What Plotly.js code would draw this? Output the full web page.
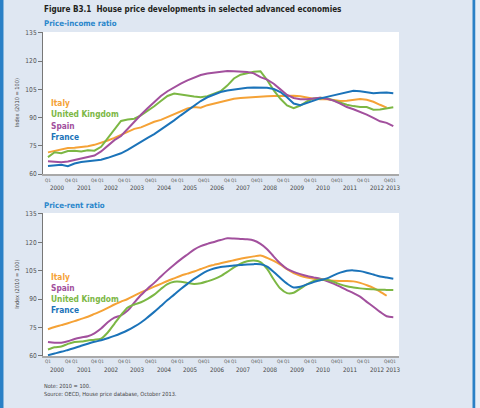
<!DOCTYPE html>
<html>
<head>
<meta charset="utf-8">
<script src="https://cdn.plot.ly/plotly-3.0.1.min.js"></script>
<style>
  html, body { margin: 0; padding: 0; background: #dfe7f2; }
  #chart { width: 480px; height: 408px; }
</style>
</head>
<body>
<div id="chart"></div>
<script>
// Quarterly periods, 2000 Q1 to 2013 Q1
const years = [2000, 2001, 2002, 2003, 2004, 2005, 2006, 2007, 2008, 2009, 2010, 2011, 2012];
const lastYear = 2013;
const quarterNames = ['Q1', 'Q2', 'Q3', 'Q4'];

// Price-income ratio, index 2010 = 100
const incomeItaly = [71.5, 72.3, 73.0, 73.8, 74.0, 74.2, 74.8, 75.5, 76.5, 77.8, 79.2, 80.8, 82.6, 84.0, 84.8, 86.5,
  87.8, 88.8, 90.3, 91.8, 93.2, 94.8, 95.6, 95.2, 96.6, 97.5, 98.6, 99.5, 100.0, 100.4, 100.7, 101.2,
  101.5, 101.4, 101.5, 101.6, 101.5, 101.6, 101.3, 100.6, 100.0, 99.8, 99.8, 99.3, 98.8, 98.9, 99.6, 99.9,
  99.5, 98.4, 96.8, 95.3];
const incomeUK = [69.0, 71.6, 71.0, 72.2, 72.4, 72.0, 72.6, 72.4, 74.5, 79.0, 84.0, 88.2, 89.0, 89.4, 91.2, 93.4,
  96.0, 98.8, 101.5, 102.8, 102.4, 101.8, 101.2, 100.8, 101.4, 102.6, 104.0, 107.0, 110.8, 112.8, 113.6, 114.4,
  114.6, 110.0, 104.5, 100.0, 96.5, 95.0, 96.4, 98.6, 100.2, 100.6, 100.3, 99.2, 97.8, 96.8, 96.1, 95.6,
  95.6, 94.2, 94.3, 94.8, 95.5];
const incomeSpain = [66.8, 66.4, 66.2, 66.6, 67.4, 68.0, 68.6, 69.8, 72.0, 75.2, 78.0, 80.2, 84.0, 88.0, 91.5, 95.0,
  98.5, 101.5, 104.0, 106.2, 108.0, 109.8, 111.4, 112.6, 113.4, 114.0, 114.6, 114.8, 114.6, 114.4, 114.3, 113.5,
  111.5, 110.2, 108.0, 105.0, 102.0, 100.4, 99.8, 99.8, 100.4, 100.6, 100.0, 99.0, 97.4, 95.6, 94.4, 93.2,
  91.6, 89.8, 88.0, 87.2, 85.4];
const incomeFrance = [64.2, 64.5, 64.9, 64.2, 65.6, 66.4, 66.8, 67.2, 67.6, 68.6, 69.8, 71.0, 72.8, 75.0, 77.4, 79.2,
  81.2, 83.5, 86.0, 88.5, 91.2, 93.8, 96.5, 98.8, 100.8, 102.4, 103.6, 104.4, 105.0, 105.5, 105.8, 106.0,
  106.1, 105.9, 105.2, 103.6, 100.8, 97.5, 96.6, 97.8, 99.2, 100.2, 101.0, 101.8, 102.8, 103.6, 104.2, 104.0,
  103.6, 103.0, 103.2, 103.3, 102.9];

// Price-rent ratio, index 2010 = 100
const rentItaly = [74.1, 75.3, 76.3, 77.3, 78.4, 79.6, 80.7, 82.2, 83.7, 85.4, 87.2, 88.7, 90.1, 91.9, 93.6, 95.1,
  96.6, 98.1, 99.6, 101.0, 102.4, 103.5, 104.6, 105.9, 107.2, 108.1, 109.0, 109.8, 110.6, 111.3, 112.0, 112.6,
  113.0, 111.8, 110.2, 108.2, 105.8, 103.8, 102.4, 101.4, 100.8, 100.4, 100.0, 99.7, 99.6, 99.6, 99.4, 98.6,
  97.4, 96.0, 94.0, 91.8];
const rentSpain = [67.4, 67.0, 67.0, 67.8, 69.0, 69.8, 70.4, 72.0, 74.5, 77.8, 80.2, 81.5, 84.0, 88.2, 92.2, 95.5,
  98.6, 102.0, 105.2, 108.2, 111.0, 113.6, 116.2, 118.0, 119.2, 120.2, 121.2, 122.1, 122.0, 121.8, 121.6, 121.0,
  119.2, 116.4, 112.5, 108.8, 106.0, 104.4, 103.2, 102.2, 101.5, 100.8, 99.6, 98.2, 96.6, 94.8, 93.2, 91.3,
  88.6, 86.0, 83.3, 81.0, 80.5];
const rentUK = [63.4, 64.6, 65.0, 66.4, 67.4, 67.6, 68.2, 68.6, 69.2, 72.4, 77.0, 81.6, 85.6, 87.2, 88.4, 90.2,
  92.4, 95.4, 98.0, 99.2, 99.2, 98.6, 98.0, 98.4, 99.4, 100.6, 102.2, 104.4, 106.8, 108.8, 110.0, 110.4,
  109.6, 106.0, 100.4, 95.6, 93.2, 93.4, 95.6, 97.8, 99.6, 100.4, 100.2, 99.2, 97.8, 96.8, 96.2, 95.7,
  95.4, 95.2, 95.0, 94.9, 94.8];
const rentFrance = [60.4, 61.3, 62.2, 63.2, 64.2, 65.4, 66.5, 67.5, 68.3, 69.4, 70.6, 72.0, 73.6, 75.5, 77.7, 80.4,
  83.3, 86.4, 89.5, 92.4, 95.4, 98.1, 100.7, 103.0, 104.9, 106.2, 107.0, 107.4, 107.8, 108.0, 108.3, 108.5,
  108.4, 107.2, 104.4, 101.2, 98.2, 96.2, 96.6, 97.8, 99.0, 100.0, 101.0, 102.6, 104.0, 105.0, 105.2, 104.8,
  104.0, 103.0, 102.0, 101.4, 100.8];

const yTicks = [60, 75, 90, 105, 120, 135];

const colors = { Italy: '#f5a236', 'United Kingdom': '#7cb744', Spain: '#a2509d', France: '#1b73b9' };
const narrow = 'DejaVu Sans Condensed, Liberation Sans Narrow, sans-serif';

// Category labels for every quarter
const periods = [];
years.forEach(y => quarterNames.forEach(q => periods.push(y + ' ' + q)));
periods.push(lastYear + ' Q1');

function series(name, values, xa, ya, smooth) {
  return {
    type: 'scatter', mode: 'lines', name: name,
    x: periods.slice(0, values.length), y: values,
    xaxis: xa, yaxis: ya,
    line: { color: colors[name], width: 2, shape: smooth ? 'spline' : 'linear', smoothing: 0.8 },
    hoverinfo: 'skip', showlegend: false
  };
}

const data = [
  series('Italy', incomeItaly, 'x', 'y', false),
  series('United Kingdom', incomeUK, 'x', 'y', false),
  series('Spain', incomeSpain, 'x', 'y', false),
  series('France', incomeFrance, 'x', 'y', false),
  series('Italy', rentItaly, 'x2', 'y2', true),
  series('Spain', rentSpain, 'x2', 'y2', true),
  series('United Kingdom', rentUK, 'x2', 'y2', true),
  series('France', rentFrance, 'x2', 'y2', true)
];

function xAxis(anchor) {
  return {
    type: 'category', anchor: anchor, range: [-0.75, 52.86],
    showline: true, linecolor: '#a9a9a9', linewidth: 1.5,
    showgrid: false, zeroline: false, ticks: '', showticklabels: false
  };
}
function yAxis(anchor, domain) {
  return {
    anchor: anchor, domain: domain, range: [60, 135.5],
    showline: true, linecolor: '#777', linewidth: 1,
    showgrid: false, zeroline: false,
    ticks: 'outside', ticklen: 4, tickcolor: '#777', tickwidth: 1,
    tickmode: 'array', tickvals: yTicks,
    tickfont: { family: narrow, size: 6.6, color: '#555' }
  };
}

const annotations = [];
const shapes = [];

// Quarter labels, year labels and the bracket between each year's Q1 and Q4
function periodMarks(xa, ya) {
  const qFont = { family: narrow, size: 4.6, color: '#555' };
  const yFont = { family: narrow, size: 6.2, color: '#444' };
  periods.forEach((p, i) => {
    const q = p.slice(-2);
    if (q === 'Q1' || q === 'Q4') {
      annotations.push({ xref: xa, yref: ya, x: i, y: 60, yshift: -6, text: q, showarrow: false,
        font: qFont, xanchor: 'center', yanchor: 'middle' });
    }
  });
  years.forEach((y, i) => {
    const mid = 4 * i + 1.5;
    annotations.push({ xref: xa, yref: ya, x: mid, y: 60, yshift: -13.5, text: String(y), showarrow: false,
      font: yFont, xanchor: 'center', yanchor: 'middle' });
    shapes.push({ type: 'line', xref: xa, yref: ya, ysizemode: 'pixel', yanchor: 60,
      x0: 4 * i + 0.5, x1: 4 * i + 2.5, y0: -6, y1: -6, line: { color: '#666', width: 0.8 } });
    shapes.push({ type: 'line', xref: xa, yref: ya, ysizemode: 'pixel', yanchor: 60,
      x0: mid, x1: mid, y0: -6, y1: -9, line: { color: '#666', width: 0.8 } });
  });
  annotations.push({ xref: xa, yref: ya, x: periods.length - 1, y: 60, yshift: -13.5, text: String(lastYear),
    showarrow: false, font: yFont, xanchor: 'center', yanchor: 'middle' });
}
periodMarks('x', 'y');
periodMarks('x2', 'y2');

// Series labels inside each panel
function labels(names, ys, xa, ya) {
  names.forEach((n, i) => annotations.push({
    xref: xa, yref: ya + ' domain', x: 0.1, y: ys[i], xanchor: 'left', yanchor: 'middle',
    text: '<b>' + n + '</b>', showarrow: false, font: { family: narrow, size: 8.3, color: colors[n] }
  }));
}
labels(['Italy', 'United Kingdom', 'Spain', 'France'], [0.5, 0.4225, 0.34, 0.263], 'x', 'y');
labels(['Italy', 'Spain', 'United Kingdom', 'France'], [0.5545, 0.4776, 0.4007, 0.3217], 'x2', 'y2');

// Titles, panel headings, axis titles and footnotes
const textBits = [
  { x: -0.003, y: 1.071, text: '<b>Figure B3.1  House price developments in selected advanced economies</b>', size: 8.1, color: '#231f20' },
  { x: -0.003, y: 1.0247, text: '<b>Price-income ratio</b>', size: 7.8, color: '#2a86cb' },
  { x: -0.003, y: 0.4639, text: '<b>Price-rent ratio</b>', size: 7.8, color: '#2a86cb' },
  { x: -0.003, y: -0.0917, text: 'Note: 2010 = 100.', size: 5.6, color: '#444' },
  { x: -0.003, y: -0.1194, text: 'Source: OECD, House price database, October 2013.', size: 5.6, color: '#444' }
];
textBits.forEach(t => annotations.push({
  xref: 'paper', yref: 'paper', x: t.x, y: t.y, xanchor: 'left', yanchor: 'middle', showarrow: false,
  text: t.text, font: { family: narrow, size: t.size, color: t.color }
}));
[0.7809, 0.2207].forEach(yy => annotations.push({
  xref: 'paper', yref: 'paper', x: -0.0722, y: yy, xanchor: 'center', yanchor: 'middle',
  textangle: -90, showarrow: false,
  text: 'Index (2010 = 100)', font: { family: narrow, size: 5.6, color: '#444' }
}));

// Frame: blue strips at the left and right edges
shapes.push({ type: 'rect', xref: 'paper', yref: 'paper', x0: -0.13, x1: -0.111, y0: -0.3, y1: 1.2,
  fillcolor: '#2a80c6', line: { width: 0 }, layer: 'above' });
shapes.push({ type: 'rect', xref: 'paper', yref: 'paper', x0: 1.2065, x1: 1.2149, y0: -0.3, y1: 1.2,
  fillcolor: '#2a80c6', line: { width: 0 }, layer: 'above' });
shapes.push({ type: 'rect', xref: 'paper', yref: 'paper', x0: 1.2149, x1: 1.3, y0: -0.3, y1: 1.2,
  fillcolor: '#e8eef6', line: { width: 0 }, layer: 'above' });

const layout = {
  width: 480, height: 408,
  margin: { l: 43, r: 81, t: 32, b: 52 },
  paper_bgcolor: '#dfe7f2', plot_bgcolor: '#ffffff',
  showlegend: false,
  xaxis: xAxis('y'),
  yaxis: yAxis('x', [0.5617, 1]),
  xaxis2: xAxis('y2'),
  yaxis2: yAxis('x2', [0, 0.4414]),
  annotations: annotations,
  shapes: shapes
};

Plotly.newPlot('chart', data, layout, { staticPlot: true, displayModeBar: false });
</script>
</body>
</html>
